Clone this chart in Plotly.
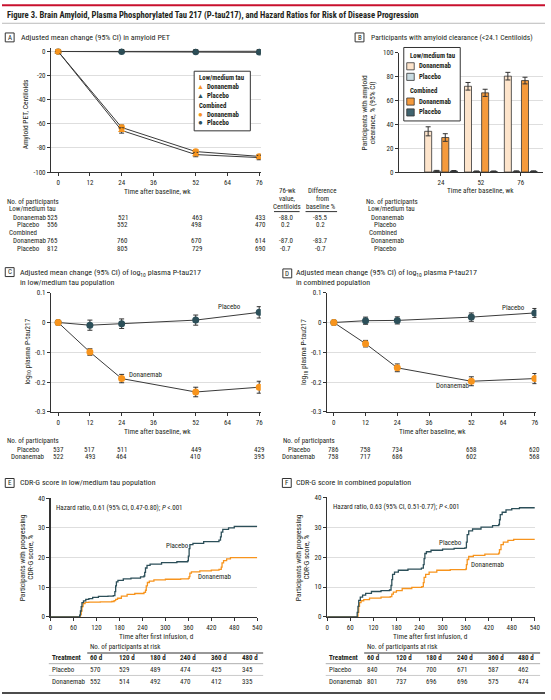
import plotly.graph_objects as go

# ---------------- data ----------------
# Panel A: amyloid PET change (Centiloids)
weeks_pet = [0, 24, 52, 76]
pet_lm_don = [0, -65.5, -85.5, -88.0]
pet_lm_don_ci = [0, 2.2, 1.8, 1.8]
pet_lm_pbo = [0, 0.3, 0.1, 0.2]
pet_lm_pbo_ci = [0, 1.2, 1.2, 1.3]
pet_cb_don = [0, -63.0, -83.0, -87.0]
pet_cb_don_ci = [0, 2.0, 1.6, 1.6]
pet_cb_pbo = [0, -0.3, -0.5, -0.7]
pet_cb_pbo_ci = [0, 1.0, 1.0, 1.1]
pet_xticks = [0, 12, 24, 36, 52, 64, 76]
pet_yticks = [0, -20, -40, -60, -80, -100]
pet_yticktext = ["0", "-20", "-40", "-60", "-80", "-100"]
n_pet_lm_don = [525, 521, 463, 433]
n_pet_lm_pbo = [556, 552, 498, 470]
n_pet_cb_don = [765, 760, 670, 614]
n_pet_cb_pbo = [812, 805, 729, 690]
wk76_value = ["-88.0", "0.2", "-87.0", "-0.7"]
wk76_diff = ["-85.5", "0.2", "-83.7", "-0.7"]

# Panel B: amyloid clearance (%)
clear_weeks = ["24", "52", "76"]
clear_lm_don = [34.2, 72.0, 80.5]
clear_lm_don_ci = [3.8, 3.2, 3.2]
clear_lm_pbo = [0.9, 0.5, 0.6]
clear_lm_pbo_ci = [0.5, 0.4, 0.4]
clear_cb_don = [29.0, 66.5, 76.8]
clear_cb_don_ci = [3.2, 3.0, 2.8]
clear_cb_pbo = [0.8, 0.5, 0.6]
clear_cb_pbo_ci = [0.5, 0.4, 0.4]
n_clear_lm_don = [521, 463, 433]
n_clear_lm_pbo = [553, 498, 470]
n_clear_cb_don = [761, 670, 614]
n_clear_cb_pbo = [805, 730, 690]

# Panels C/D: log10 plasma P-tau217 change
weeks_ptau = [0, 12, 24, 52, 76]
ptau_lm_pbo = [0, -0.009, -0.004, 0.008, 0.034]
ptau_lm_pbo_ci = [0, 0.017, 0.016, 0.017, 0.019]
ptau_lm_don = [0, -0.099, -0.188, -0.233, -0.217]
ptau_lm_don_ci = [0, 0.011, 0.014, 0.016, 0.02]
ptau_cb_pbo = [0, 0.006, 0.007, 0.018, 0.032]
ptau_cb_pbo_ci = [0, 0.012, 0.012, 0.014, 0.015]
ptau_cb_don = [0, -0.071, -0.152, -0.197, -0.188]
ptau_cb_don_ci = [0, 0.011, 0.013, 0.015, 0.017]
ptau_yticks = [0.1, 0, -0.1, -0.2, -0.3]
ptau_yticktext = ["0.1", "0", "-0.1", "-0.2", "-0.3"]
n_ptau_lm_pbo = [537, 517, 511, 449, 429]
n_ptau_lm_don = [522, 493, 464, 410, 395]
n_ptau_cb_pbo = [786, 758, 734, 658, 620]
n_ptau_cb_don = [758, 717, 686, 602, 568]

# Panels E/F: CDR-G progression (Kaplan-Meier, %)
km_lm_pbo_d = [0, 74, 76, 78, 80, 82, 86, 92, 100, 110, 125, 150, 164, 168, 170, 172, 176, 190, 210, 235, 244, 246, 248, 252, 260, 290, 330, 358, 360, 362, 364, 372, 400, 440, 444, 446, 450, 465, 480, 540]
km_lm_pbo_p = [0, 0, 0.6, 2.0, 3.5, 4.8, 5.4, 5.9, 6.2, 6.6, 6.9, 7.0, 7.2, 8.5, 10.5, 11.8, 12.3, 12.8, 13.1, 13.5, 13.8, 15.0, 16.5, 17.4, 17.8, 18.3, 18.6, 18.9, 20.5, 23.0, 24.4, 24.8, 25.4, 25.9, 27.0, 28.6, 29.5, 30.0, 30.5, 30.5]
km_lm_don_d = [0, 76, 78, 80, 82, 85, 90, 100, 130, 160, 166, 170, 175, 185, 200, 220, 244, 248, 250, 253, 258, 270, 300, 340, 360, 362, 364, 368, 390, 420, 440, 446, 448, 452, 460, 470, 540]
km_lm_don_p = [0, 0, 0.8, 2.0, 3.5, 4.5, 4.9, 5.0, 5.1, 5.2, 5.5, 5.9, 6.3, 7.0, 7.6, 7.9, 8.3, 9.0, 10.5, 11.6, 12.1, 12.5, 12.7, 12.8, 13.0, 13.6, 14.8, 15.2, 15.5, 15.8, 16.0, 16.8, 18.2, 19.0, 19.6, 20.0, 20.0]
km_cb_pbo_d = [0, 76, 78, 80, 82, 86, 92, 100, 115, 140, 162, 166, 168, 170, 175, 185, 210, 245, 250, 252, 254, 258, 270, 300, 330, 358, 362, 364, 368, 378, 400, 430, 446, 448, 450, 455, 465, 480, 500, 540]
km_cb_pbo_p = [0, 0, 1.5, 3.5, 5.5, 6.6, 7.3, 7.9, 8.5, 8.8, 9.0, 10.5, 12.5, 14.2, 15.0, 15.6, 16.0, 16.3, 17.5, 19.5, 21.2, 21.8, 22.3, 22.7, 22.9, 23.1, 25.0, 27.5, 28.8, 29.4, 30.0, 30.5, 30.9, 32.5, 34.2, 35.0, 35.8, 36.2, 36.5, 36.5]
km_cb_don_d = [0, 78, 80, 82, 84, 88, 95, 110, 140, 164, 168, 172, 180, 195, 220, 246, 250, 252, 256, 265, 285, 320, 360, 362, 364, 368, 380, 410, 446, 448, 452, 458, 470, 485, 540]
km_cb_don_p = [0, 0, 1.5, 3.5, 4.8, 5.4, 5.8, 6.3, 6.6, 6.8, 7.6, 8.3, 8.8, 9.5, 9.9, 10.1, 11.5, 13.2, 14.2, 15.0, 15.6, 15.8, 16.0, 17.5, 19.2, 20.2, 20.6, 21.0, 21.3, 22.5, 24.2, 25.0, 25.6, 25.9, 25.9]
km_xticks = [0, 60, 120, 180, 240, 300, 360, 420, 480, 540]
km_yticks = [0, 10, 20, 30, 40]
risk_cols = ["60 d", "120 d", "180 d", "240 d", "360 d", "480 d"]
risk_lm_pbo = [570, 529, 489, 474, 425, 345]
risk_lm_don = [552, 514, 492, 470, 412, 335]
risk_cb_pbo = [840, 764, 700, 671, 587, 462]
risk_cb_don = [801, 737, 696, 696, 575, 474]

# ---------------- style ----------------
W, H = 551, 700
FONT = "Liberation Sans Narrow, Arial Narrow, Roboto Condensed, Liberation Sans, sans-serif"
TXT = "#231f20"
ORANGE = "#F7941D"
TEAL = "#2C4F59"
LINEC = "#3a3a3a"
AXC = "#333333"
GRID = "#dedede"
BAR_LM_DON = "#FDE4CB"
BAR_LM_PBO = "#C9DCE2"
BAR_CB_DON = "#F59A3C"
BAR_CB_PBO = "#40646F"


def px(x):
    return x / W


def py(y):
    return 1 - y / H


annotations = []
shapes = []


def txt(x, y, s, size=7, anchor="left", color=TXT, angle=0, xref="paper", xshift=0):
    annotations.append(dict(
        x=(px(x) if xref == "paper" else x), y=py(y), xref=xref, yref="paper",
        text=s, showarrow=False, xanchor=anchor, yanchor="middle",
        textangle=angle, xshift=xshift,
        font=dict(size=size, family=FONT, color=color)))


def hline(x0, x1, y, color=AXC, width=1):
    shapes.append(dict(type="line", xref="paper", yref="paper",
                       x0=px(x0), x1=px(x1), y0=py(y), y1=py(y),
                       line=dict(color=color, width=width)))


def rect(x0, y0, x1, y1, fill="rgba(0,0,0,0)", color=AXC, width=1):
    shapes.append(dict(type="rect", xref="paper", yref="paper",
                       x0=px(x0), x1=px(x1), y0=py(y1), y1=py(y0),
                       fillcolor=fill, line=dict(color=color, width=width)))


def panel_label(x0, y0, letter):
    rect(x0, y0, x0 + 9, y0 + 9, fill="white", color=AXC, width=1)
    txt(x0 + 4.5, y0 + 4.7, letter, size=7, anchor="center")


fig = go.Figure()


def err(arr):
    return dict(type="data", array=arr, visible=True, color=AXC, thickness=1, width=2.5)


def series(xax, yax, x, y, ci, color, symbol, size=6.5):
    fig.add_trace(go.Scatter(
        x=x, y=y, xaxis=xax, yaxis=yax, mode="lines+markers",
        line=dict(color=LINEC, width=1),
        marker=dict(color=color, size=size, symbol=symbol, line=dict(width=0)),
        error_y=err(ci), showlegend=False, hoverinfo="skip"))


# ---------- Panel A ----------
series("x", "y", weeks_pet, pet_cb_pbo, pet_cb_pbo_ci, TEAL, "circle")
series("x", "y", weeks_pet, pet_lm_pbo, pet_lm_pbo_ci, TEAL, "triangle-up")
series("x", "y", weeks_pet, pet_cb_don, pet_cb_don_ci, ORANGE, "circle")
series("x", "y", weeks_pet, pet_lm_don, pet_lm_don_ci, ORANGE, "triangle-up")

# ---------- Panel B ----------
for vals, ci, col in [(clear_lm_don, clear_lm_don_ci, BAR_LM_DON),
                      (clear_lm_pbo, clear_lm_pbo_ci, BAR_LM_PBO),
                      (clear_cb_don, clear_cb_don_ci, BAR_CB_DON),
                      (clear_cb_pbo, clear_cb_pbo_ci, BAR_CB_PBO)]:
    fig.add_trace(go.Bar(
        x=clear_weeks, y=vals, xaxis="x2", yaxis="y2",
        marker=dict(color=col, line=dict(color=AXC, width=0.8)),
        error_y=err(ci), showlegend=False, hoverinfo="skip"))

# ---------- Panels C, D ----------
series("x3", "y3", weeks_ptau, ptau_lm_pbo, ptau_lm_pbo_ci, TEAL, "circle", 7)
series("x3", "y3", weeks_ptau, ptau_lm_don, ptau_lm_don_ci, ORANGE, "circle", 7)
series("x4", "y4", weeks_ptau, ptau_cb_pbo, ptau_cb_pbo_ci, TEAL, "circle", 7)
series("x4", "y4", weeks_ptau, ptau_cb_don, ptau_cb_don_ci, ORANGE, "circle", 7)

# ---------- Panels E, F ----------
for xax, yax, d, p, col in [("x5", "y5", km_lm_don_d, km_lm_don_p, ORANGE),
                            ("x5", "y5", km_lm_pbo_d, km_lm_pbo_p, TEAL),
                            ("x6", "y6", km_cb_don_d, km_cb_don_p, ORANGE),
                            ("x6", "y6", km_cb_pbo_d, km_cb_pbo_p, TEAL)]:
    fig.add_trace(go.Scatter(x=d, y=p, xaxis=xax, yaxis=yax, mode="lines",
                             line=dict(color=col, width=1.3, shape="hv"),
                             showlegend=False, hoverinfo="skip"))

# ---------- axes ----------
base = dict(showline=True, linecolor=AXC, linewidth=1.3, ticks="outside", ticklen=3,
            tickwidth=1, tickcolor=AXC, zeroline=False, fixedrange=True,
            tickfont=dict(size=7, family=FONT, color=TXT), showgrid=False)
ygrid = dict(showgrid=True, gridcolor=GRID, gridwidth=1)

layout_axes = dict(
    xaxis=dict(base, domain=[px(50), px(262.6)], range=[-2.6, 76.6], anchor="y", tickvals=pet_xticks),
    yaxis=dict(base, **ygrid, domain=[py(170), py(45)], range=[-100, 2.5], anchor="x",
               tickvals=pet_yticks, ticktext=pet_yticktext),
    xaxis2=dict(base, domain=[px(403), px(549)], range=[-1.05, 2.56], anchor="y2", type="category"),
    yaxis2=dict(base, **ygrid, domain=[py(170), py(49.5)], range=[0, 100], anchor="x2",
                tickvals=[0, 20, 40, 60, 80, 100]),
    xaxis3=dict(base, domain=[px(50), px(262.6)], range=[-2.6, 76.6], anchor="y3", tickvals=pet_xticks),
    yaxis3=dict(base, **ygrid, domain=[py(412.7), py(292)], range=[-0.3, 0.1], anchor="x3",
                tickvals=ptau_yticks, ticktext=ptau_yticktext),
    xaxis4=dict(base, domain=[px(330), px(542.3)], range=[-2.5, 76.6], anchor="y4", tickvals=pet_xticks),
    yaxis4=dict(base, **ygrid, domain=[py(412.7), py(292)], range=[-0.3, 0.1], anchor="x4",
                tickvals=ptau_yticks, ticktext=ptau_yticktext),
    xaxis5=dict(base, domain=[px(49.3), px(259)], range=[0, 540], anchor="y5", tickvals=km_xticks),
    yaxis5=dict(base, **ygrid, domain=[py(620), py(500)], range=[0, 40], anchor="x5", tickvals=km_yticks),
    xaxis6=dict(base, domain=[px(330), px(540.7)], range=[0, 540], anchor="y6", tickvals=km_xticks),
    yaxis6=dict(base, **ygrid, domain=[py(620), py(499)], range=[0, 40], anchor="x6", tickvals=km_yticks),
)

# ---------- header ----------
hline(0, W, 1.2, color="#c8102e", width=2)
txt(3, 11.7, "<b>Figure 3. Brain Amyloid, Plasma Phosphorylated Tau 217 (P-tau217), and Hazard Ratios for Risk of Disease Progression</b>", size=8.6)
hline(0, W, 19.5, color="#bbbbbb", width=1)
hline(0, W, 697, color="#111111", width=1.5)

# ---------- Panel A text ----------
panel_label(3.3, 29.3, "A")
txt(17.7, 34, "Adjusted mean change (95% CI) in amyloid PET", size=8)
txt(24, 112, "Amyloid PET, Centiloids", size=7.5, anchor="center", angle=-90)
txt(157.5, 189.5, "Time after baseline, wk", size=7.3, anchor="center")
# legend A
rect(195, 68, 252, 128.3, fill="white", color=AXC, width=1)
txt(198, 75, "<b>Low/medium tau</b>", size=6.8)
txt(201.5, 83.7, "▲", size=7, anchor="center", color=ORANGE)
txt(206, 83.7, "<b>Donanemab</b>", size=6.8)
txt(201.5, 93, "▲", size=7, anchor="center", color=TEAL)
txt(206, 93, "<b>Placebo</b>", size=6.8)
txt(198, 103.3, "<b>Combined</b>", size=6.8)
txt(201.5, 112, "●", size=8, anchor="center", color=ORANGE)
txt(206, 112, "<b>Donanemab</b>", size=6.8)
txt(201.5, 120.3, "●", size=8, anchor="center", color=TEAL)
txt(206, 120.3, "<b>Placebo</b>", size=6.8)
# table A
txt(3, 200, "No. of participants", size=7)
txt(5, 207, "Low/medium tau", size=7)
txt(9, 216, "Donanemab", size=7)
txt(13, 224, "Placebo", size=7)
txt(5, 232, "Combined", size=7)
txt(9, 240, "Donanemab", size=7)
txt(13, 248, "Placebo", size=7)
for row_y, arr in [(216, n_pet_lm_don), (224, n_pet_lm_pbo), (240, n_pet_cb_don), (248, n_pet_cb_pbo)]:
    for wk, n in zip(weeks_pet, arr):
        txt(wk, row_y, str(n), size=7, anchor="center", xref="x", xshift=(-6 if wk == 0 else 1))
txt(290, 189, "76-wk", size=7, anchor="center")
txt(290, 197.5, "value,", size=7, anchor="center")
txt(289, 205.5, "Centiloids", size=7, anchor="center")
hline(276, 302, 210, color=AXC, width=1)
txt(325, 189, "Difference", size=7, anchor="center")
txt(325, 197.5, "from", size=7, anchor="center")
txt(324, 205.5, "baseline %", size=7, anchor="center")
hline(308, 340, 210, color=AXC, width=1)
for row_y, v, d in zip([216, 224, 240, 248], wk76_value, wk76_diff):
    txt(288, row_y, v, size=7, anchor="center")
    txt(323, row_y, d, size=7, anchor="center")

# ---------- Panel B text ----------
panel_label(358.3, 29.3, "B")
txt(372, 34, "Participants with amyloid clearance (&lt;24.1 Centiloids)", size=7.6)
txt(368, 110, "Participants with amyloid", size=7.5, anchor="center", angle=-90)
txt(376, 110, "clearance, % (95% CI)", size=7.5, anchor="center", angle=-90)
txt(486, 189, "Time after baseline, wk", size=7.3, anchor="center")
# legend B
rect(407.7, 44, 465, 118.3, fill="white", color=AXC, width=1)
txt(411.7, 52.3, "<b>Low/medium tau</b>", size=6.8)
for yy, col, lab in [(63, BAR_LM_DON, "Donanemab"), (73.7, BAR_LM_PBO, "Placebo"),
                     (98.7, BAR_CB_DON, "Donanemab"), (109.7, BAR_CB_PBO, "Placebo")]:
    rect(410.7, yy - 3.6, 418.3, yy + 3.6, fill=col, color=AXC, width=0.8)
    txt(420.7, yy, "<b>" + lab + "</b>", size=6.8)
txt(411.7, 87.7, "<b>Combined</b>", size=6.8)
# table B
txt(367, 200, "No. of participants", size=7)
txt(369, 207, "Low/medium tau", size=7)
txt(372, 216, "Donanemab", size=7)
txt(375, 224, "Placebo", size=7)
txt(370, 232, "Combined", size=7)
txt(372, 240, "Donanemab", size=7)
txt(375, 248, "Placebo", size=7)
for row_y, arr in [(216, n_clear_lm_don), (224, n_clear_lm_pbo), (240, n_clear_cb_don), (248, n_clear_cb_pbo)]:
    for wk, n in zip(clear_weeks, arr):
        txt(wk, row_y, str(n), size=7, anchor="center", xref="x2", xshift=1)

# ---------- Panel C text ----------
panel_label(3.3, 266.7, "C")
txt(16.7, 271.7, "Adjusted mean change (95% CI) of log<sub>10</sub> plasma P-tau217", size=8)
txt(16.7, 281.7, "in low/medium tau population", size=8)
txt(26, 352, "log<sub>10</sub> plasma P-tau217", size=7.5, anchor="center", angle=-90)
txt(157.5, 432, "Time after baseline, wk", size=7.3, anchor="center")
txt(245, 306, "Placebo", size=7, anchor="right")
txt(127, 375, "Donanemab", size=7)
txt(3, 442.5, "No. of participants", size=7)
txt(13, 450.7, "Placebo", size=7)
txt(7, 458.3, "Donanemab", size=7)
for row_y, arr in [(450.7, n_ptau_lm_pbo), (458.3, n_ptau_lm_don)]:
    for wk, n in zip(weeks_ptau, arr):
        txt(wk, row_y, str(n), size=7, anchor="center", xref="x3", xshift=0)

# ---------- Panel D text ----------
panel_label(285, 268, "D")
txt(296, 271.7, "Adjusted mean change (95% CI) of log<sub>10</sub> plasma P-tau217", size=8)
txt(296, 281.7, "in combined population", size=8)
txt(306.5, 352, "log<sub>10</sub> plasma P-tau217", size=7.5, anchor="center", angle=-90)
txt(437, 432, "Time after baseline, wk", size=7.3, anchor="center")
txt(533, 307.7, "Placebo", size=7, anchor="right")
txt(438, 386.7, "Donanemab", size=7)
txt(283, 442.5, "No. of participants", size=7)
txt(288, 450.7, "Placebo", size=7)
txt(282, 458.3, "Donanemab", size=7)
for row_y, arr in [(450.7, n_ptau_cb_pbo), (458.3, n_ptau_cb_don)]:
    for wk, n in zip(weeks_ptau, arr):
        txt(wk, row_y, str(n), size=7, anchor="center", xref="x4", xshift=0)

# ---------- Panel E text ----------
panel_label(3.3, 480, "E")
txt(16.7, 484, "CDR-G score in low/medium tau population", size=8)
txt(53, 510, "Hazard ratio, 0.61 (95% CI, 0.47-0.80); <i>P</i> &lt;.001", size=7)
txt(21, 560, "Participants with progressing", size=7.5, anchor="center", angle=-90)
txt(29.5, 560, "CDR-G score, %", size=7.5, anchor="center", angle=-90)
txt(157, 639.5, "Time after first infusion, d", size=7.3, anchor="center")
txt(178.5, 548.3, "Placebo", size=7, anchor="center")
txt(216, 580, "Donanemab", size=7, anchor="center")

# ---------- Panel F text ----------
panel_label(284.5, 480, "F")
txt(296.7, 484, "CDR-G score in combined population", size=8)
txt(334, 509, "Hazard ratio, 0.63 (95% CI, 0.51-0.77); <i>P</i> &lt;.001", size=7)
txt(301, 560, "Participants with progressing", size=7.5, anchor="center", angle=-90)
txt(309.5, 560, "CDR-G score, %", size=7.5, anchor="center", angle=-90)
txt(435, 639.5, "Time after first infusion, d", size=7.3, anchor="center")
txt(455.5, 545.7, "Placebo", size=7, anchor="center")
txt(493.5, 567.7, "Donanemab", size=7, anchor="center")

# ---------- risk tables ----------
for x_off, pbo, don in [(0, risk_lm_pbo, risk_lm_don), (281, risk_cb_pbo, risk_cb_don)]:
    col_x = [87.7 + x_off, 116.7 + x_off, 147.7 + x_off, 179 + x_off, 210 + x_off, 241 + x_off]
    txt(87 + x_off, 650.7, "No. of participants at risk", size=7)
    hline(86.5 + x_off, 265 + x_off, 656.5, color=AXC, width=1.2)
    txt(49 + x_off, 661.7, "<b>Treatment</b>", size=7)
    for cx, lab in zip(col_x, risk_cols):
        txt(cx, 661.7, "<b>" + lab + "</b>", size=7)
    hline(47.5 + x_off, 265 + x_off, 667.3, color="#9a9a9a", width=0.8)
    txt(49 + x_off, 673.3, "Placebo", size=7)
    for cx, n in zip(col_x, pbo):
        txt(cx, 673.3, str(n), size=7)
    hline(47.5 + x_off, 265 + x_off, 679.2, color="#bdbdbd", width=0.8)
    txt(49 + x_off, 685.7, "Donanemab", size=7)
    for cx, n in zip(col_x, don):
        txt(cx, 685.7, str(n), size=7)

fig.update_layout(
    width=W, height=H, autosize=False,
    margin=dict(l=0, r=0, t=0, b=0),
    paper_bgcolor="white", plot_bgcolor="white",
    showlegend=False, barmode="group", bargap=0.14, bargroupgap=0.18,
    font=dict(family=FONT, size=7, color=TXT),
    annotations=annotations, shapes=shapes,
    **layout_axes)

fig.write_html("out.html", config={"displayModeBar": False, "staticPlot": True},
               post_script="document.body.style.margin='0px';document.body.style.overflow='hidden';")
